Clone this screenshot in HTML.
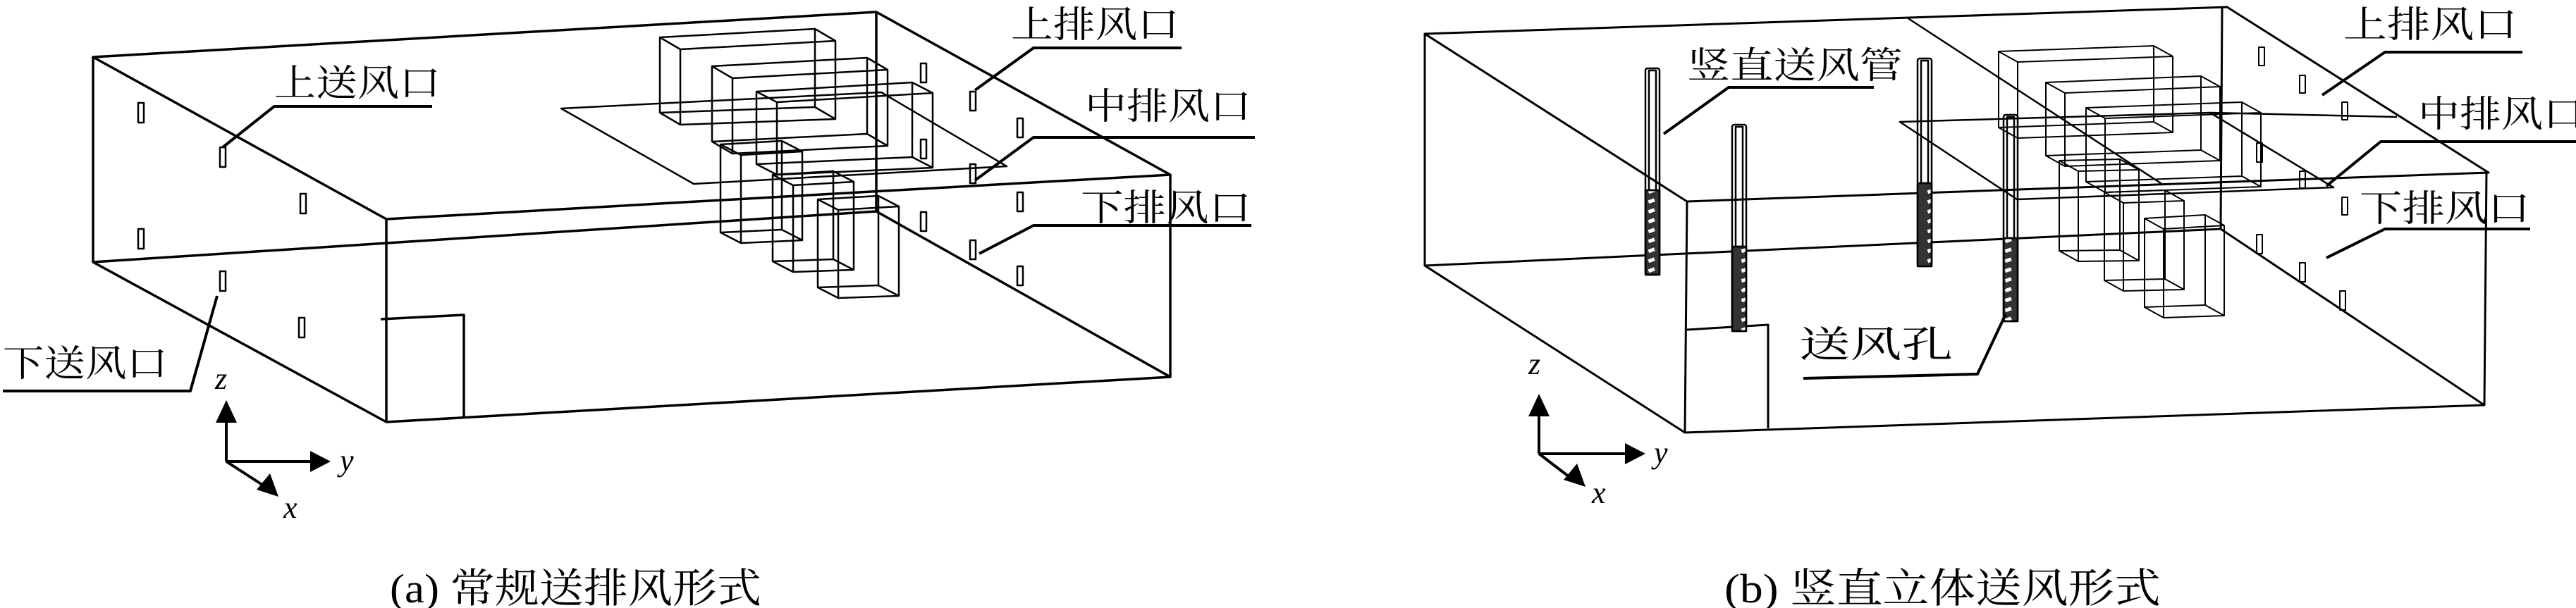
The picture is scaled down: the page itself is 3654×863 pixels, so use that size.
<!DOCTYPE html>
<html><head><meta charset="utf-8"><style>
html,body{margin:0;padding:0;background:#fff;}
svg{display:block;}
text{font-family:"Liberation Serif","Noto Serif CJK SC",serif;fill:#000;}
.it{font-style:italic;}
</style></head><body>
<svg width="3654" height="863" viewBox="0 0 3654 863" xmlns="http://www.w3.org/2000/svg">
<defs>
<pattern id="perf" width="22" height="14" patternUnits="userSpaceOnUse">
<rect width="22" height="14" fill="#333"/>
<rect x="6" y="3" width="9" height="5" fill="#fff" transform="rotate(-20 10 5)"/>
</pattern>
</defs>
<g fill="none" stroke="#000" stroke-linejoin="round">
<!-- ===== LEFT DIAGRAM ===== -->
<g stroke-width="3.5">
<path d="M132 81 L1243 17 L1660 248 L548 311 Z"/>
<path d="M132 81 L132 372 L548 599 L1660 535 L1660 248"/>
<path d="M548 311 L548 599"/>
<path d="M132 372 L1243 300 L1660 535"/>
<path d="M1243 17 L1243 300"/>
<path d="M540 453 L658 447 L658 593"/>
</g>
<!-- plane -->
<path stroke-width="2.5" d="M796 154 L1250 131 L1428 236 L984 261 Z"/>
<!-- boxes -->
<g stroke-width="2.5">
<path d="M936 53 L1156 41 L1156 152 L936 160 Z M965 70 L1185 58 L1185 169 L965 177 Z M936 53 l29 17 M1156 41 l29 17 M1156 152 l29 17 M936 160 l29 17"/>
<path d="M1010 94 L1230 82 L1230 190 L1010 201 Z M1039 111 L1259 99 L1259 207 L1039 218 Z M1010 94 l29 17 M1230 82 l29 17 M1230 190 l29 17 M1010 201 l29 17"/>
<path d="M1073 130 L1294 117 L1294 223 L1073 233 Z M1102 145 L1323 132 L1323 238 L1102 248 Z M1073 130 l29 15 M1294 117 l29 15 M1294 223 l29 15 M1073 233 l29 15"/>
<path d="M1022 205 L1109 200 L1109 326 L1022 330 Z M1051 220 L1138 215 L1138 341 L1051 345 Z M1022 205 l29 15 M1109 200 l29 15 M1109 326 l29 15 M1022 330 l29 15"/>
<path d="M1096 248 L1182 243 L1182 368 L1096 371 Z M1125 263 L1211 258 L1211 383 L1125 386 Z M1096 248 l29 15 M1182 243 l29 15 M1182 368 l29 15 M1096 371 l29 15"/>
<path d="M1160 283 L1246 278 L1246 405 L1160 408 Z M1189 298 L1275 293 L1275 420 L1189 423 Z M1160 283 l29 15 M1246 278 l29 15 M1246 405 l29 15 M1160 408 l29 15"/>
</g>
<!-- vents -->
<g stroke-width="2.5">
<rect x="196" y="146" width="8" height="28"/><rect x="312" y="209" width="8" height="28"/><rect x="426" y="275" width="8" height="28"/>
<rect x="196" y="325" width="8" height="28"/><rect x="312" y="385" width="8" height="28"/><rect x="424" y="451" width="8" height="28"/>
<rect x="1306" y="90" width="8" height="27"/><rect x="1376" y="130" width="8" height="27"/><rect x="1443" y="168" width="8" height="27"/>
<rect x="1306" y="198" width="8" height="27"/><rect x="1376" y="233" width="8" height="27"/><rect x="1443" y="273" width="8" height="27"/>
<rect x="1306" y="301" width="8" height="27"/><rect x="1376" y="341" width="8" height="27"/><rect x="1443" y="378" width="8" height="27"/>
</g>
<!-- leaders -->
<g stroke-width="4">
<path d="M613 151 L389 151 L316 209"/>
<path d="M4 555 L270 555 L308 420"/>
<path d="M1676 68 L1466 68 L1383 128"/>
<path d="M1780 195 L1466 195 L1383 256"/>
<path d="M1775 320 L1466 320 L1389 360"/>
</g>
<!-- axes left -->
<g stroke-width="4">
<path d="M321 655 L321 595 M321 655 L442 655 M321 655 L375 690"/>
</g>

<!-- ===== RIGHT DIAGRAM ===== -->
<g stroke-width="3">
<path d="M2021 48 L3159 10 L3530 245 L2393 286 Z"/>
<path d="M2021 48 L2021 377 L2390 614 L3524 575 L3527 245"/>
<path d="M2393 286 L2390 614"/>
<path d="M2021 377 L3150 325 L3524 575"/>
<path d="M3152 10 L3150 325"/>
<path d="M2393 468 L2508 461 L2508 608"/>
</g>
<path stroke-width="2.5" d="M2705 25 L3068 262"/>
<path stroke-width="2.5" d="M2695 173 L3135 160 L3310 266 L2861 283 Z M3135 160 L3400 166"/>
<g stroke-width="2">
<path d="M2835 73 L3055 65 L3055 173 L2835 181 Z M2862 88 L3082 80 L3082 188 L2862 196 Z M2835 73 l27 15 M3055 65 l27 15 M3055 173 l27 15 M2835 181 l27 15"/>
<path d="M2902 117 L3122 108 L3122 213 L2902 221 Z M2929 132 L3149 123 L3149 228 L2929 236 Z M2902 117 l27 15 M3122 108 l27 15 M3122 213 l27 15 M2902 221 l27 15"/>
<path d="M2959 153 L3180 145 L3180 250 L2959 258 Z M2986 168 L3207 160 L3207 265 L2986 273 Z M2959 153 l27 15 M3180 145 l27 15 M3180 250 l27 15 M2959 258 l27 15"/>
<path d="M2921 228 L3007 226 L3007 355 L2921 356 Z M2948 243 L3034 241 L3034 370 L2948 371 Z M2921 228 l27 15 M3007 226 l27 15 M3007 355 l27 15 M2921 356 l27 15"/>
<path d="M2985 273 L3071 270 L3071 396 L2985 398 Z M3012 288 L3098 285 L3098 411 L3012 413 Z M2985 273 l27 15 M3071 270 l27 15 M3071 396 l27 15 M2985 398 l27 15"/>
<path d="M3042 310 L3128 305 L3128 433 L3042 436 Z M3069 325 L3155 320 L3155 448 L3069 451 Z M3042 310 l27 15 M3128 305 l27 15 M3128 433 l27 15 M3042 436 l27 15"/>
</g>
<g stroke-width="2">
<rect x="3204" y="67" width="8" height="26"/><rect x="3262" y="107" width="8" height="25"/><rect x="3322" y="145" width="8" height="25"/>
<rect x="3201" y="203" width="8" height="27"/><rect x="3262" y="243" width="8" height="24"/><rect x="3322" y="280" width="8" height="25"/>
<rect x="3201" y="333" width="8" height="27"/><rect x="3262" y="373" width="8" height="27"/><rect x="3319" y="413" width="8" height="27"/>
</g>
<!-- pipes -->
<g stroke-width="2.5">
<rect x="2334" y="270" width="20" height="120" fill="url(#perf)"/>
<rect x="2334" y="97" width="20" height="293" rx="3"/>
<rect x="2339" y="100" width="10" height="170"/>
<rect x="2457" y="350" width="20" height="120" fill="url(#perf)"/>
<rect x="2457" y="177" width="20" height="293" rx="3"/>
<rect x="2462" y="180" width="10" height="170"/>
<rect x="2720" y="260" width="20" height="118" fill="url(#perf)"/>
<rect x="2720" y="83" width="20" height="295" rx="3"/>
<rect x="2725" y="86" width="10" height="174"/>
<rect x="2842" y="338" width="20" height="118" fill="url(#perf)"/>
<rect x="2842" y="163" width="20" height="293" rx="3"/>
<rect x="2847" y="166" width="10" height="172"/>
</g>
<g stroke-width="4">
<path d="M2658 124 L2452 124 L2360 190"/>
<path d="M2558 537 L2805 531 L2845 446"/>
<path d="M3578 74 L3383 74 L3294 135"/>
<path d="M3654 201 L3377 201 L3300 264"/>
<path d="M3589 325 L3383 325 L3300 366"/>
</g>
<g stroke-width="4">
<path d="M2183 644 L2183 585 M2183 644 L2305 644 M2183 644 L2230 680"/>
</g>
</g>
<!-- arrowheads -->
<g fill="#000">
<polygon points="321,568 306,600 336,600"/>
<polygon points="469,655 440,640 440,670"/>
<polygon points="395,705 364,695 383,672"/>
<polygon points="2183,559 2168,591 2198,591"/>
<polygon points="2334,644 2305,629 2305,659"/>
<polygon points="2249,691 2218,681 2237,658"/>
</g>
<!-- text -->
<g font-size="52">
<text x="389" y="136" textLength="236" lengthAdjust="spacingAndGlyphs">上送风口</text>
<text x="4" y="534" textLength="234" lengthAdjust="spacingAndGlyphs">下送风口</text>
<text x="1434" y="53" textLength="239" lengthAdjust="spacingAndGlyphs">上排风口</text>
<text x="1539" y="169" textLength="236" lengthAdjust="spacingAndGlyphs">中排风口</text>
<text x="1533" y="313" textLength="242" lengthAdjust="spacingAndGlyphs">下排风口</text>
<text x="2393" y="111" textLength="306" lengthAdjust="spacingAndGlyphs">竖直送风管</text>
<text x="2552" y="507" textLength="218" lengthAdjust="spacingAndGlyphs">送风孔</text>
<text x="3324" y="53" textLength="247" lengthAdjust="spacingAndGlyphs">上排风口</text>
<text x="3430" y="180" textLength="236" lengthAdjust="spacingAndGlyphs">中排风口</text>
<text x="3347" y="314" textLength="242" lengthAdjust="spacingAndGlyphs">下排风口</text>
</g>
<g font-size="44" class="it">
<text x="305" y="552" class="it">z</text>
<text x="482" y="668" class="it">y</text>
<text x="402" y="735" class="it">x</text>
<text x="2168" y="531" class="it">z</text>
<text x="2346" y="657" class="it">y</text>
<text x="2258" y="714" class="it">x</text>
</g>
<g font-size="58">
<text x="553" y="855" textLength="527" lengthAdjust="spacingAndGlyphs">(a) 常规送排风形式</text>
<text x="2446" y="855" textLength="619" lengthAdjust="spacingAndGlyphs">(b) 竖直立体送风形式</text>
</g>
</svg>
</body></html>
